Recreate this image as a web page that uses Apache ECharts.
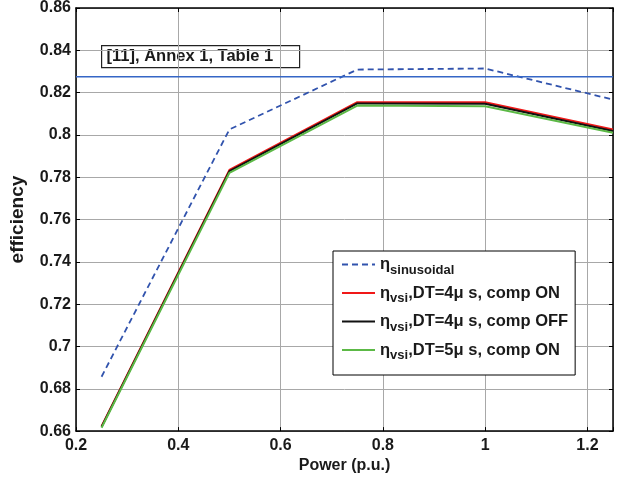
<!DOCTYPE html>
<html>
<head>
<meta charset="utf-8">
<script src="https://cdn.jsdelivr.net/npm/echarts@6/dist/echarts.min.js"></script>
<style>
  html, body { margin: 0; padding: 0; background: #fff; }
  #chart { width: 627px; height: 479px; }
</style>
</head>
<body>
<div id="chart"></div>
<script>
// Output power levels (p.u.)
const power = [0.25, 0.5, 0.75, 1.0, 1.25];

// Efficiency curves
const etaSinusoidal = [0.6857, 0.8026, 0.8309, 0.8314, 0.8167];
const etaDt4CompOn  = [0.6623, 0.7835, 0.8155, 0.8154, 0.8026];
const etaDt4CompOff = [0.6620, 0.7829, 0.8149, 0.8147, 0.8019];
const etaDt5CompOn  = [0.6616, 0.7821, 0.8139, 0.8136, 0.8010];

// Reference efficiency from [11], Annex 1, Table 1
const referenceEta = 0.8275;
const referenceText = '[11], Annex 1, Table 1';

// Legend entries: main symbol, subscript, trailing text
const legendMain = ['η', 'η', 'η', 'η'];
const legendSub  = ['sinusoidal', 'vsi', 'vsi', 'vsi'];
const legendTail = ['', ',DT=4μ s, comp ON', ',DT=4μ s, comp OFF', ',DT=5μ s, comp ON'];
const seriesNames = ['eta_sinusoidal', 'eta_vsi_dt4_on', 'eta_vsi_dt4_off', 'eta_vsi_dt5_on'];

// Axis ranges and ticks
const xMin = 0.2, xMax = 1.25, xStep = 0.2;
const yMin = 0.66, yMax = 0.86, yStep = 0.02;

const FONT = '"Liberation Sans", Arial, Helvetica, sans-serif';
const INK = '#1a1a1a';

function pairs(xs, ys) { return xs.map((x, i) => [x, ys[i]]); }

const chart = echarts.init(document.getElementById('chart'), null, { renderer: 'canvas' });

const axisCommon = {
  type: 'value',
  axisLine: { show: true, onZero: false, lineStyle: { color: '#000', width: 1.5 } },
  axisTick: { show: true, inside: true, length: 4, lineStyle: { color: '#000', width: 1 } },
};

const legendLabel = {};
seriesNames.forEach((n, i) => {
  legendLabel[n] = '{m|' + legendMain[i] + '}{s|' + legendSub[i] + '}' + (legendTail[i] ? '{t|' + legendTail[i] + '}' : '');
});

const option = {
  backgroundColor: '#fff',
  animation: false,
  grid: { left: 75, right: 14, top: 7, bottom: 46, containLabel: false },
  xAxis: [
    Object.assign({}, axisCommon, {
      position: 'bottom',
      min: xMin, max: xMax, interval: xStep,
      name: 'Power (p.u.)',
      nameLocation: 'middle',
      nameGap: 24,
      nameTextStyle: { fontFamily: FONT, fontWeight: 'bold', fontSize: 16, color: INK },
      axisLabel: {
        margin: 6,
        fontFamily: FONT, fontWeight: 'bold', fontSize: 16, color: INK,
        formatter: v => (Math.abs(v - xMax) < 1e-9 ? '' : String(+v.toFixed(2)))
      },
      splitLine: { show: true, lineStyle: { color: '#a8a8a8', width: 1 } }
    }),
    Object.assign({}, axisCommon, {
      position: 'top',
      min: xMin, max: xMax, interval: xStep,
      axisLabel: { show: false },
      splitLine: { show: false }
    })
  ],
  yAxis: [
    Object.assign({}, axisCommon, {
      position: 'left',
      min: yMin, max: yMax, interval: yStep,
      name: 'efficiency',
      nameLocation: 'middle',
      nameRotate: 90,
      nameGap: 49,
      nameTextStyle: { fontFamily: FONT, fontWeight: 'bold', fontSize: 19, color: INK },
      axisLabel: {
        margin: 5,
        fontFamily: FONT, fontWeight: 'bold', fontSize: 16, color: INK,
        formatter: v => String(+v.toFixed(2))
      },
      splitLine: { show: true, lineStyle: { color: '#a8a8a8', width: 1 } }
    }),
    Object.assign({}, axisCommon, {
      position: 'right',
      min: yMin, max: yMax, interval: yStep,
      axisLabel: { show: false },
      splitLine: { show: false }
    })
  ],
  legend: {
    orient: 'vertical',
    left: 333,
    top: 251,
    data: seriesNames,
    itemWidth: 33,
    itemHeight: 10,
    itemGap: 8,
    padding: [5, 7, 13, 8],
    borderColor: '#000',
    borderWidth: 1,
    backgroundColor: '#fff',
    itemStyle: { opacity: 0, borderWidth: 0 },
    formatter: name => legendLabel[name],
    textStyle: {
      color: INK,
      rich: {
        m: { fontFamily: FONT, fontWeight: 'bold', fontSize: 16.5, lineHeight: 24, verticalAlign: 'middle', color: INK },
        s: { fontFamily: FONT, fontWeight: 'bold', fontSize: 13, verticalAlign: 'bottom', color: INK },
        t: { fontFamily: FONT, fontWeight: 'bold', fontSize: 16.5, lineHeight: 24, verticalAlign: 'middle', color: INK }
      }
    }
  },
  series: [
    {
      name: seriesNames[0], type: 'line', symbol: 'none',
      data: pairs(power, etaSinusoidal),
      lineStyle: { color: '#3153ad', width: 1.8, type: [6, 4] },
      itemStyle: { color: '#3153ad' }
    },
    {
      name: seriesNames[1], type: 'line', symbol: 'none',
      data: pairs(power, etaDt4CompOn),
      lineStyle: { color: '#f01818', width: 2 },
      itemStyle: { color: '#f01818' }
    },
    {
      name: seriesNames[2], type: 'line', symbol: 'none',
      data: pairs(power, etaDt4CompOff),
      lineStyle: { color: '#111', width: 2 },
      itemStyle: { color: '#111' }
    },
    {
      name: seriesNames[3], type: 'line', symbol: 'none',
      data: pairs(power, etaDt5CompOn),
      lineStyle: { color: '#5cb946', width: 2 },
      itemStyle: { color: '#5cb946' }
    },
    {
      name: 'reference', type: 'line', symbol: 'none',
      data: [[xMin, referenceEta], [xMax, referenceEta]],
      lineStyle: { color: '#3566c6', width: 1.6 },
      itemStyle: { color: '#3566c6' }
    }
  ],
  graphic: [
    {
      type: 'group',
      left: 101,
      top: 45,
      children: [
        {
          type: 'rect',
          shape: { x: 0, y: 0, width: 198, height: 22 },
          style: { fill: 'rgba(255,255,255,0)', stroke: '#222', lineWidth: 1.2 }
        },
        {
          type: 'text',
          x: 5, y: 11,
          style: {
            text: referenceText,
            fontFamily: FONT, fontWeight: 'bold', fontSize: 16.5,
            fill: INK, verticalAlign: 'middle', align: 'left'
          }
        }
      ]
    }
  ]
};

chart.setOption(option);
</script>
</body>
</html>
